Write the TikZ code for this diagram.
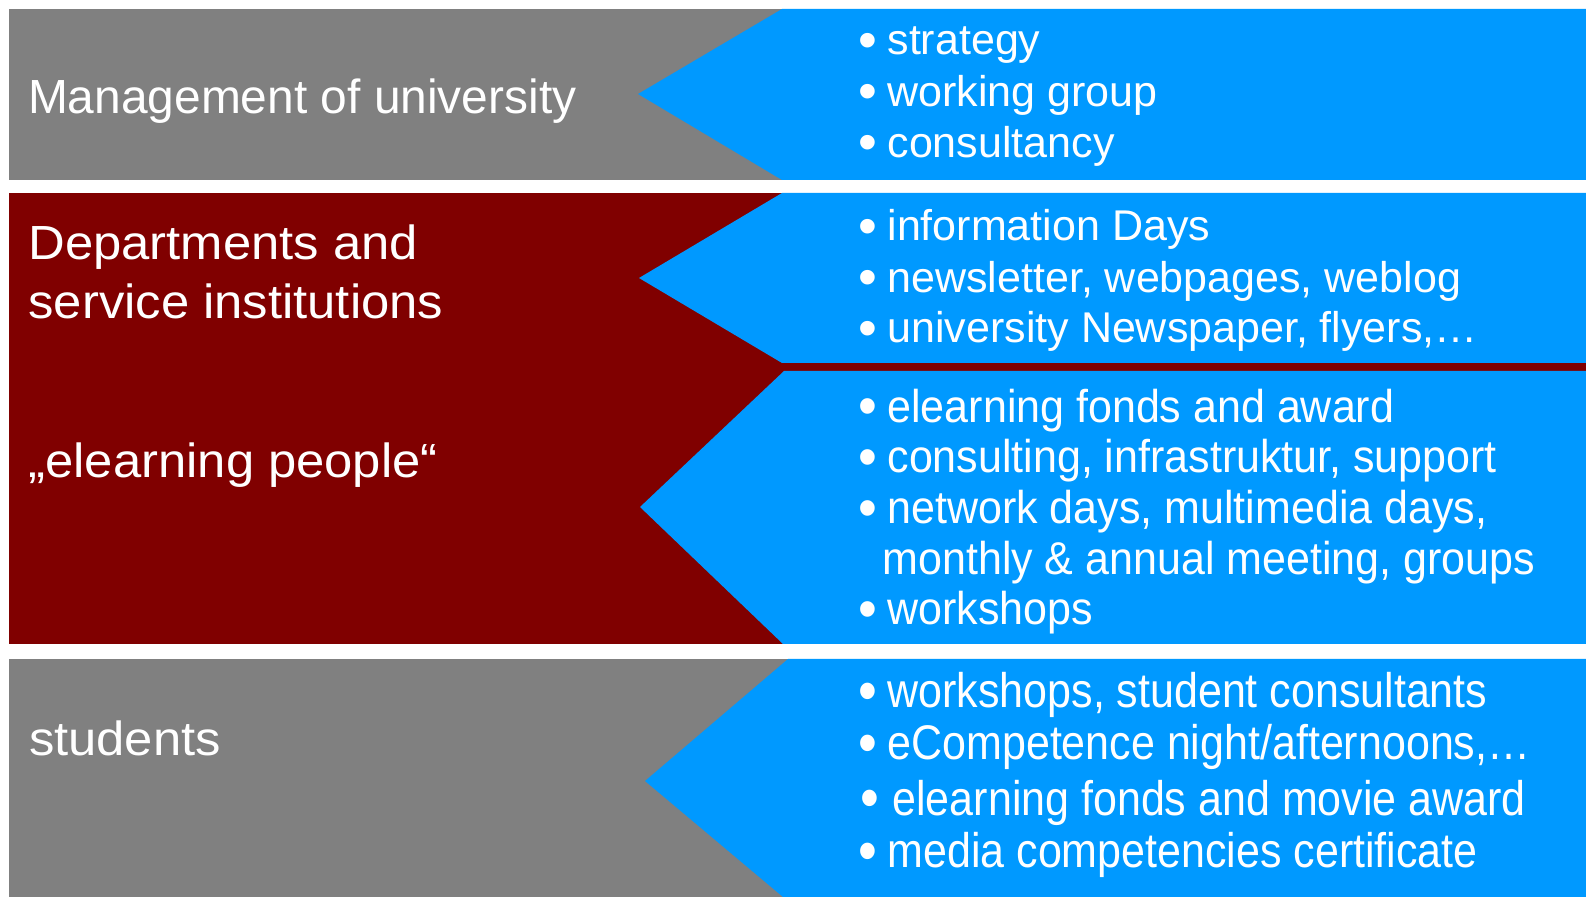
\documentclass[tikz,border=0pt]{standalone}
\usepackage{fontspec}
\setmainfont{Liberation Sans}
\usepackage{graphicx}
\definecolor{bgray}{HTML}{808080}
\definecolor{bred}{HTML}{800000}
\definecolor{bblue}{HTML}{0099FF}
\tikzset{
  lt/.style={anchor=base west, inner sep=0pt, outer sep=0pt, text=white, font=\fontsize{23.95pt}{28pt}\selectfont},
  rt/.style={anchor=base west, inner sep=0pt, outer sep=0pt, text=white, font=\fontsize{21.5pt}{25pt}\selectfont},
  panel/.style={fill=bblue, draw=none},
}
\newcommand{\vstretch}[2]{\scalebox{1}[#1]{#2}}
\newcommand{\hstretch}[1]{\scalebox{1.06}[1]{#1}}
\newcommand{\bul}{\makebox[0.35em][c]{\raisebox{-1.6pt}{\scalebox{1.25}{•}}}}
\begin{document}
\begin{tikzpicture}[x=0.5pt,y=-0.5pt]
\useasboundingbox (0,0) rectangle (1586,897);
% backgrounds
\fill[bgray] (9,9) rectangle (1586,180);
\fill[bred] (9,193) rectangle (1586,644);
\fill[bgray] (9,659) rectangle (1586,897);
% blue arrow panels
\fill[panel] (782,9) -- (1586,9) -- (1586,180) -- (782,180) -- (638,94) -- cycle;
\fill[panel] (782,193) -- (1586,193) -- (1586,363) -- (782,363) -- (639,278) -- cycle;
\fill[panel] (784,371) -- (1586,371) -- (1586,644) -- (783,644) -- (640,507) -- cycle;
\fill[panel] (788,659) -- (1586,659) -- (1586,897) -- (783,897) -- (645,781) -- cycle;
% left labels
\node[lt] (mgmt) at (28,113.3) {Management of university};
\node[lt] (dep1) at (28.5,259.5) {\hstretch{Departments and}};
\node[lt] (dep2) at (28.5,318.5) {\hstretch{service institutions}};
\node[lt] (elp) at (28.5,478) {\hstretch{„elearning people“}};
\node[lt] (stu) at (29,756) {\hstretch{students}};
% block 1
\node[rt] (a1) at (860.5,55) {\bul\ strategy};
\node[rt] (a2) at (860.5,106.5) {\bul\ working group};
\node[rt] (a3) at (860.5,157.5) {\bul\ consultancy};
% block 2
\node[rt] (b1) at (860.5,241) {\bul\ information Days};
\node[rt] (b2) at (860.5,292.5) {\bul\ newsletter, webpages, weblog};
\node[rt] (b3) at (860.5,343) {\bul\ university Newspaper, flyers,…};
% block 3
\node[rt] (c1) at (860.5,422.5) {\vstretch{1.07}{\bul\ elearning fonds and award}};
\node[rt] (c2) at (860.5,473) {\vstretch{1.07}{\bul\ consulting, infrastruktur, support}};
\node[rt] (c3) at (860.5,524) {\vstretch{1.07}{\bul\ network days, multimedia days,}};
\node[rt] (c4) at (882.5,574.5) {\vstretch{1.07}{monthly \& annual meeting, groups}};
\node[rt] (c5) at (860.5,625) {\vstretch{1.07}{\bul\ workshops}};
% block 4
\node[rt] (d1) at (860.5,708) {\vstretch{1.13}{\bul\ workshops, student consultants}};
\node[rt] (d2) at (860.5,760) {\vstretch{1.13}{\bul\ eCompetence night/afternoons,…}};
\node[rt] (d3) at (862.5,815) {\vstretch{1.13}{\bul\kern1.5pt\ elearning fonds and movie award}};
\node[rt] (d4) at (860.5,868) {\vstretch{1.13}{\bul\ media competencies certificate}};
\end{tikzpicture}
\end{document}
